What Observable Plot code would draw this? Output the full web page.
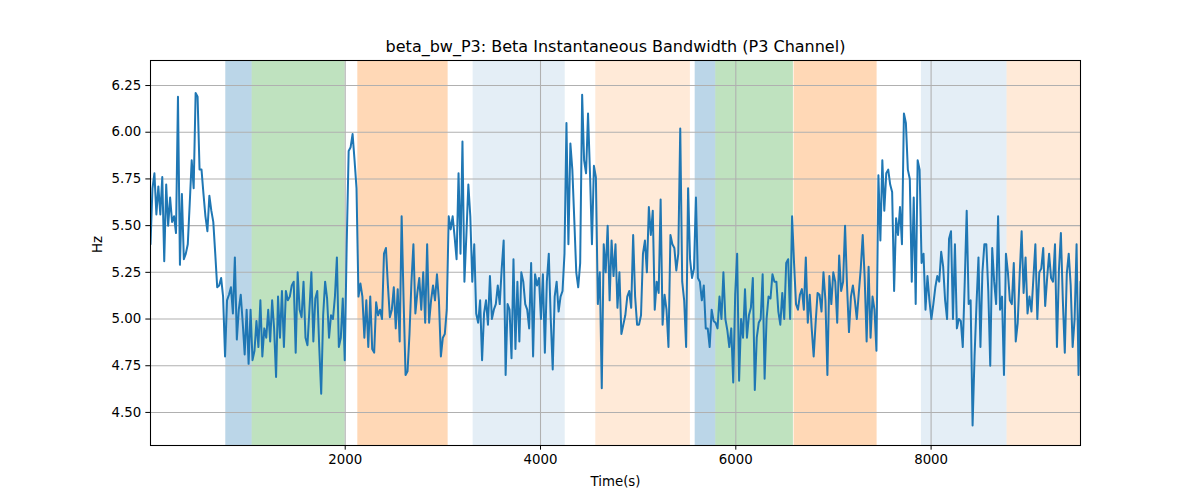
<!DOCTYPE html>
<html>
<head>
<meta charset="utf-8">
<script src="https://cdn.jsdelivr.net/npm/d3@7"></script>
<script src="https://cdn.jsdelivr.net/npm/@observablehq/plot@0.6"></script>
<style>
  html, body { margin: 0; padding: 0; background: #fff; }
  #chart svg { display: block; }
</style>
</head>
<body>
<div id="chart"></div>
<script>
// ---- Data ----
const titleText = "beta_bw_P3: Beta Instantaneous Bandwidth (P3 Channel)";
const xLabel = "Time(s)";
const yLabel = "Hz";
const timeStart = 6;
const timeEnd = 9530;
const xTicks = [2000, 4000, 6000, 8000];
const yTicks = [4.50, 4.75, 5.00, 5.25, 5.50, 5.75, 6.00, 6.25];

const bandwidth = [
  5.40,5.70,5.78,5.56,5.71,5.56,5.76,5.31,5.72,5.50,5.65,5.52,5.55,5.46,6.19,5.29,5.67,5.32,5.35,5.40,5.62,5.85,5.70,6.21,6.19,5.80,5.80,5.67,5.55,5.47,5.66,5.58,5.52,5.35,5.17,5.18,5.22,5.12,4.80,5.10,
  5.13,5.17,5.03,5.33,4.89,5.05,5.13,4.98,4.81,5.05,4.76,5.05,4.78,4.83,4.99,4.85,5.10,4.80,4.95,4.90,5.05,4.88,5.10,4.95,4.69,5.12,4.90,5.15,4.85,5.15,5.10,5.12,5.18,5.20,4.82,5.25,5.05,5.01,5.20,4.90,
  4.86,5.05,5.25,4.88,5.11,5.15,4.85,4.60,5.02,5.20,5.11,4.90,5.02,5.00,5.12,5.33,4.85,4.90,5.11,4.78,5.40,5.90,5.92,5.99,5.85,5.70,5.12,5.19,5.12,4.90,5.10,4.85,5.12,4.84,4.82,5.09,5.02,5.05,5.00,5.35,
  5.38,5.18,5.01,5.05,5.17,4.95,5.16,4.88,5.55,5.10,4.70,4.72,4.92,5.20,5.40,5.03,5.14,5.22,5.05,5.25,4.98,5.40,4.98,5.10,5.18,5.10,5.24,5.10,4.80,4.90,4.92,5.05,5.55,5.48,5.55,5.44,5.32,5.78,5.35,5.95,
  5.20,5.45,5.72,5.55,5.20,5.40,5.03,4.98,5.10,4.78,5.03,5.10,4.97,5.23,5.00,5.05,5.08,5.18,5.08,5.27,5.42,4.70,5.08,5.05,4.79,5.32,4.84,5.20,4.88,5.25,5.20,5.08,5.05,4.95,5.30,4.80,5.24,5.18,5.22,5.00,
  5.24,4.82,5.20,5.35,5.00,4.73,5.12,5.20,5.04,5.12,5.15,5.35,6.05,5.40,5.94,5.80,5.53,5.25,5.17,5.30,6.20,5.85,5.78,6.10,5.78,5.40,5.82,5.76,5.08,5.25,4.63,5.40,5.25,5.50,5.10,5.42,5.23,5.40,5.06,5.25,
  4.92,4.97,5.02,5.12,5.15,5.06,5.45,5.12,4.97,4.97,5.02,5.35,5.42,5.25,5.60,5.45,5.58,5.05,5.20,5.14,5.64,4.97,5.13,5.05,4.85,5.45,5.40,5.38,5.26,5.35,6.02,5.20,5.10,4.85,5.70,5.32,5.22,5.27,5.65,5.22,
  5.20,5.10,5.18,4.95,4.95,4.85,5.05,4.99,4.98,4.95,5.12,5.00,5.25,5.00,4.94,4.85,4.95,4.66,5.13,5.35,4.67,5.00,4.90,5.16,4.90,5.02,5.06,5.22,4.62,4.90,4.98,5.00,5.24,4.68,5.00,5.12,5.11,5.24,5.20,5.20,
  5.04,4.97,5.14,5.00,5.30,5.32,5.00,5.55,5.30,5.08,5.05,5.13,5.16,5.05,5.33,4.98,5.13,4.95,4.80,4.98,5.14,5.13,5.04,5.25,5.10,4.70,5.23,5.08,5.25,5.20,4.98,5.34,5.15,5.20,5.50,5.18,4.93,5.12,5.18,5.10,
  5.00,5.14,5.27,5.45,5.22,4.88,5.28,4.90,5.12,5.05,4.83,5.77,5.42,5.85,5.58,5.78,5.80,5.72,5.68,5.15,5.54,5.45,5.60,5.40,6.10,6.05,5.80,5.75,5.20,5.65,5.08,5.85,5.80,5.30,5.35,5.05,5.23,5.10,5.00,5.08,
  5.17,5.23,5.20,5.36,5.28,5.10,5.00,5.43,5.47,5.00,5.40,4.95,5.00,4.99,4.85,5.20,5.58,5.08,5.10,4.43,4.80,5.08,5.33,4.85,5.25,5.40,5.40,5.15,4.75,5.38,5.20,5.08,5.55,5.05,5.12,4.70,5.35,5.25,
  5.10,5.08,5.30,4.88,4.98,5.24,5.47,5.14,5.33,5.03,5.12,5.04,5.22,5.40,5.00,5.25,5.27,5.38,5.07,5.22,5.35,5.22,5.20,5.40,4.85,5.26,5.46,5.10,4.82,5.24,5.35,5.18,4.85,5.00,5.40,4.70,5.20
];

// shaded segments
const spanStart   = [777, 1047, 2129, 3310, 4566, 5584, 5795, 6597, 7901, 8778];
const spanEnd     = [1047, 2000, 3054, 4253, 5535, 5795, 6590, 7447, 8778, 9530];
const spanColor   = ["#1f77b4", "#2ca02c", "#ff7f0e", "#1f77b4", "#ff7f0e", "#1f77b4", "#2ca02c", "#ff7f0e", "#1f77b4", "#ff7f0e"];
const spanOpacity = [0.3, 0.3, 0.3, 0.12, 0.16, 0.3, 0.3, 0.3, 0.12, 0.16];

// ---- Build ----
const step = (timeEnd - timeStart) / (bandwidth.length - 1);
const series = bandwidth.map((v, i) => ({t: timeStart + i * step, v}));
const spans = spanStart.map((s, i) => ({x1: s, x2: spanEnd[i], fill: spanColor[i], op: spanOpacity[i]}));

const chart = Plot.plot({
  width: 1200,
  height: 500,
  marginTop: 60,
  marginBottom: 55,
  marginLeft: 150,
  marginRight: 120,
  style: {fontFamily: "DejaVu Sans", fontSize: "13.33px", color: "black", background: "white"},
  x: {domain: [timeStart, timeEnd]},
  y: {domain: [4.323, 6.384]},
  marks: [
    Plot.rect(spans, {x1: "x1", x2: "x2", fill: "fill", fillOpacity: "op"}),
    Plot.gridX(xTicks, {stroke: "#b0b0b0", strokeOpacity: 1, strokeWidth: 1.07}),
    Plot.gridY(yTicks, {stroke: "#b0b0b0", strokeOpacity: 1, strokeWidth: 1.07}),
    Plot.line(series, {x: "t", y: "v", stroke: "#1f77b4", strokeWidth: 2, clip: true}),
    Plot.frame({stroke: "black", strokeWidth: 1.07}),
    Plot.axisX({ticks: xTicks, tickFormat: d => String(d), tickSize: 4.67, tickPadding: 4, label: null, fontSize: 13.33}),
    Plot.axisY({ticks: yTicks, tickFormat: d => d.toFixed(2), tickSize: 4.67, tickPadding: 4.67, label: null, fontSize: 13.33}),
    Plot.text([xLabel], {frameAnchor: "bottom", lineAnchor: "middle", dy: 36, fontSize: 13.33, fill: "black"}),
    Plot.text([yLabel], {frameAnchor: "left", lineAnchor: "middle", dx: -53, rotate: -90, fontSize: 13.33, fill: "black"}),
    Plot.text([titleText], {frameAnchor: "top", lineAnchor: "middle", dy: -14, fontSize: 16, fill: "black"})
  ]
});
document.getElementById("chart").appendChild(chart);
</script>
</body>
</html>
